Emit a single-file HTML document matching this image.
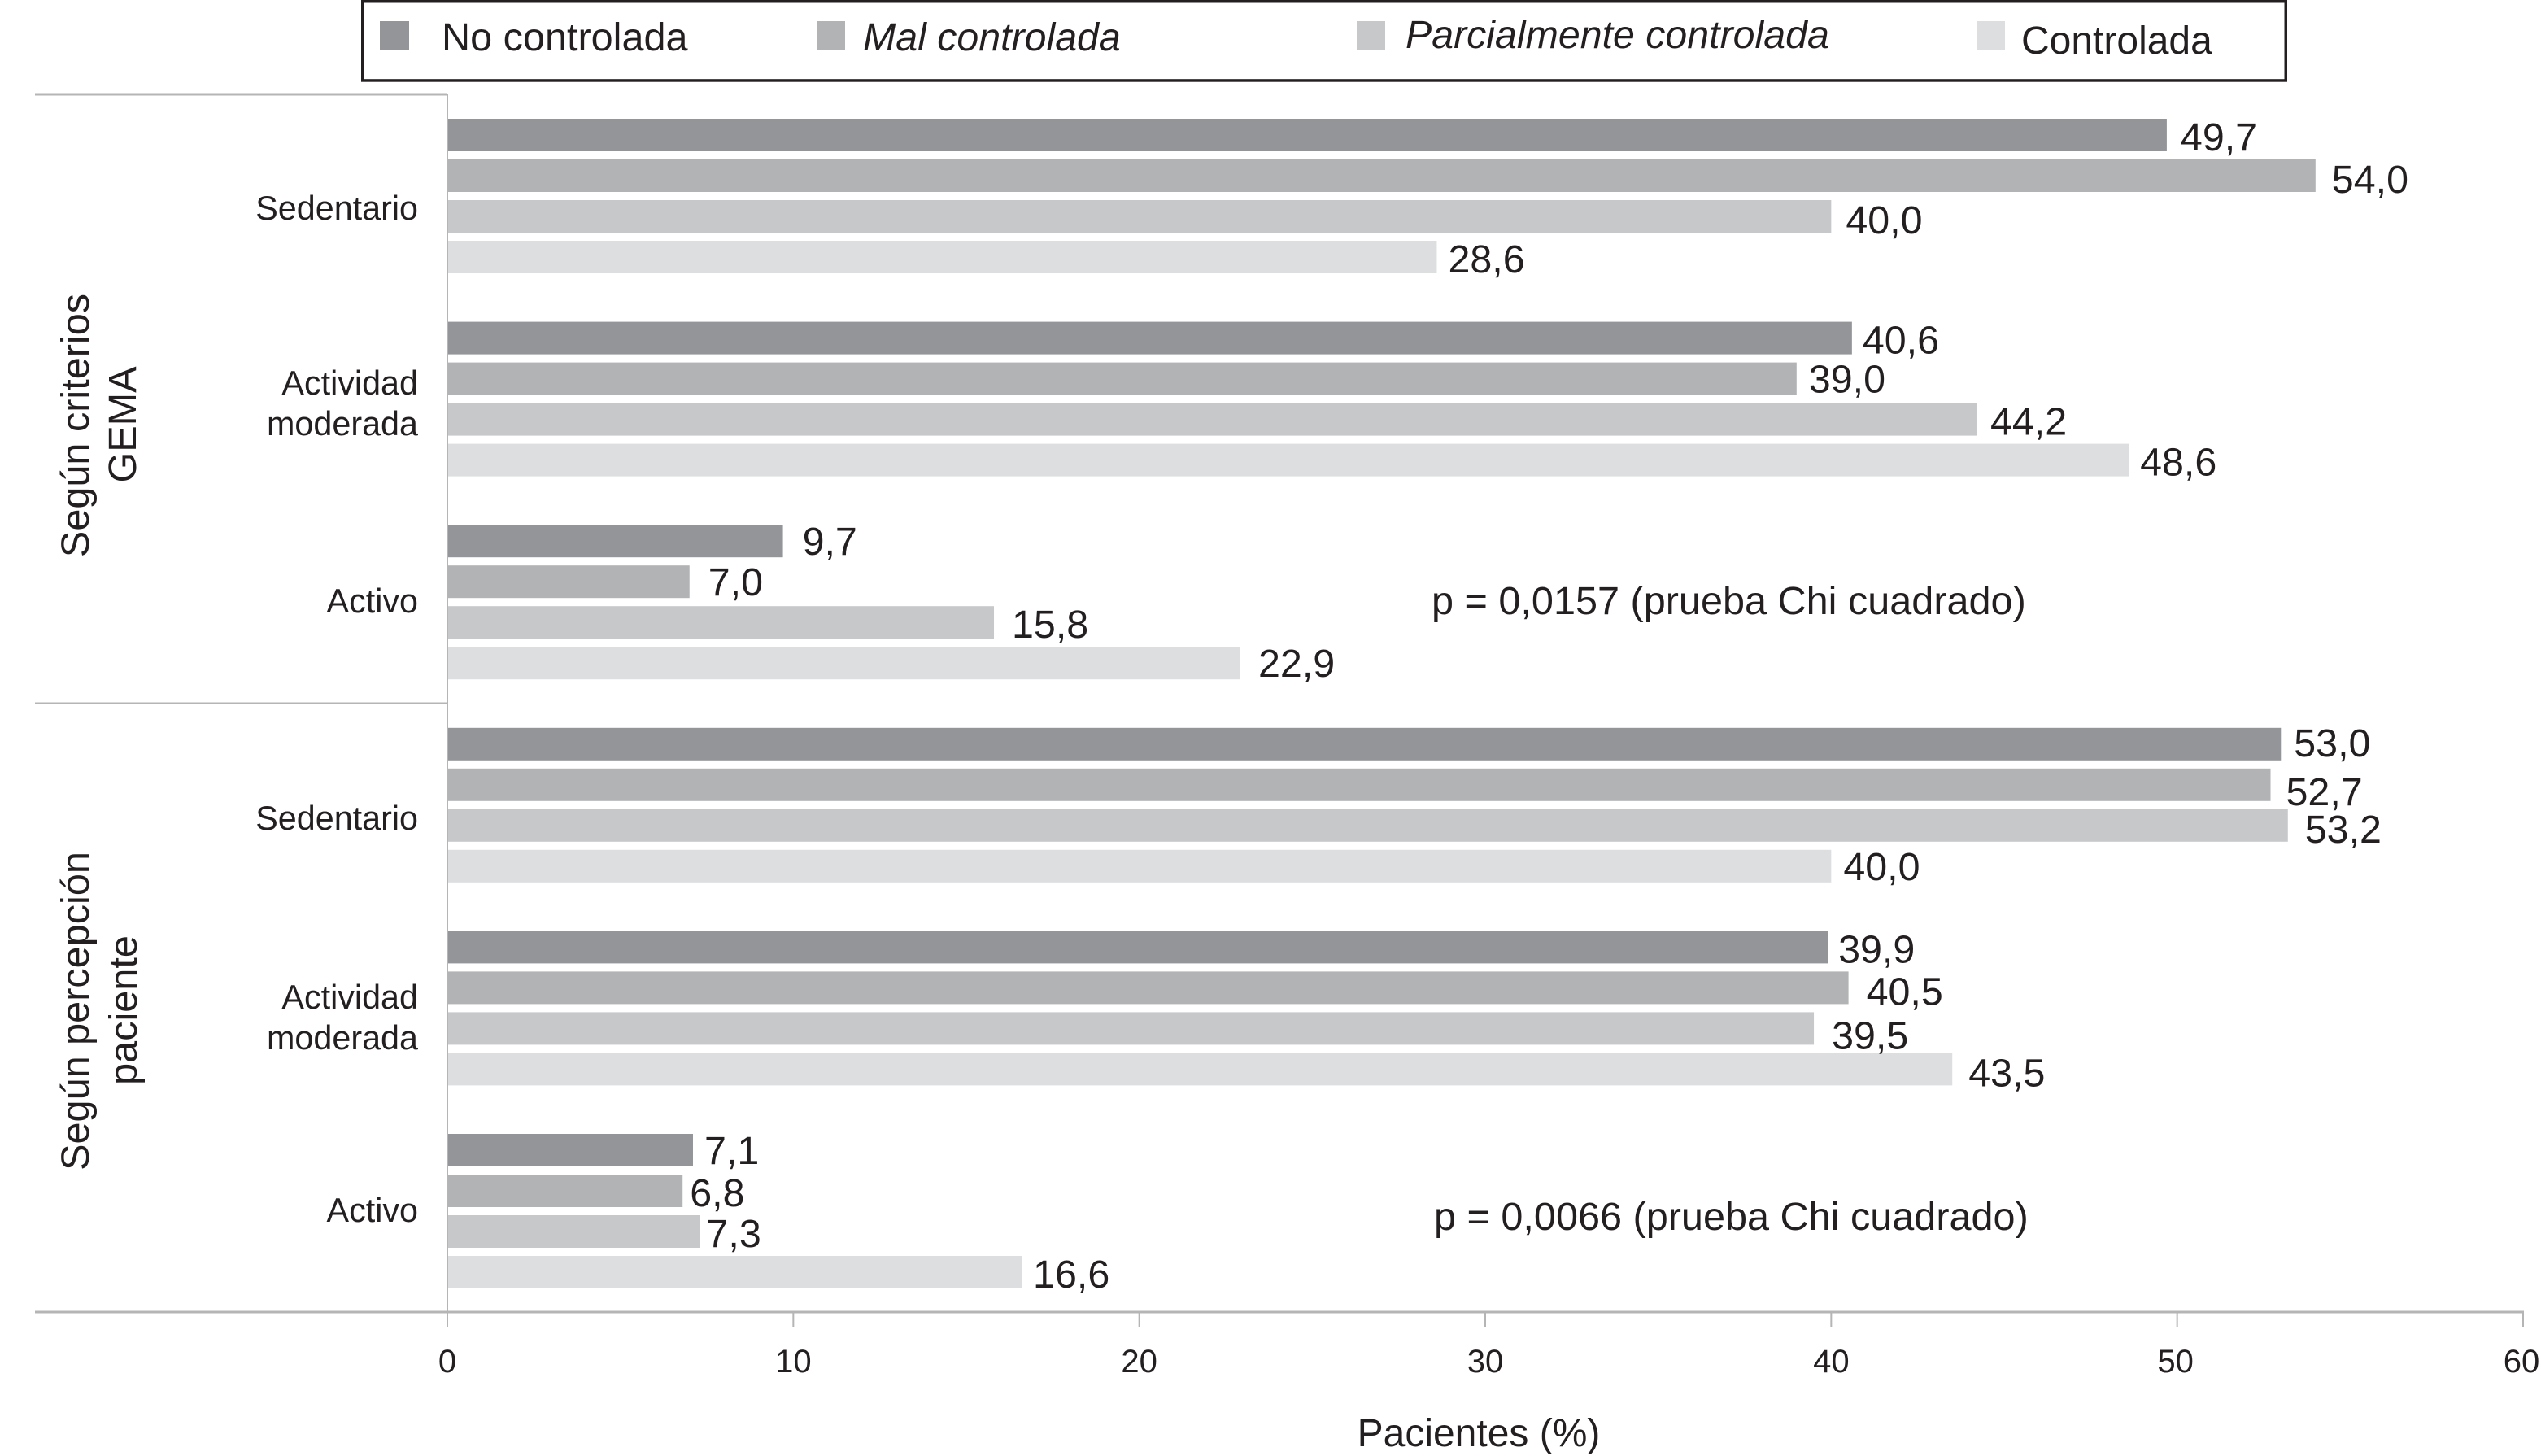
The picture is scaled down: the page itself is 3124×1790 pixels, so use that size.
<!DOCTYPE html>
<html lang="es">
<head>
<meta charset="utf-8">
<title>Control del asma según actividad física</title>
<style>
html,body{margin:0;padding:0;background:#fff;width:3124px;height:1790px;overflow:hidden}
svg{display:block}
text{font-family:"Liberation Sans",sans-serif;fill:#231f20}
</style>
</head>
<body>
<svg id="chart" xmlns="http://www.w3.org/2000/svg" width="3124" height="1790" viewBox="0 0 3124 1790">
  <rect x="0" y="0" width="3124" height="1790" fill="#fff"/>

  <g>
    <rect x="445.75" y="1.75" width="2364.5" height="97.2" fill="#fff" stroke="#231f20" stroke-width="3.5"/>
    <rect x="467" y="26" width="36" height="35" fill="#939598"/>
    <text x="543" y="62" font-size="48.6">No controlada</text>
    <rect x="1004" y="26" width="35" height="35" fill="#b1b3b5"/>
    <text x="1061" y="62" font-size="48.3" font-style="italic">Mal controlada</text>
    <rect x="1668" y="26" width="35" height="35" fill="#c6c8ca"/>
    <text x="1728" y="59" font-size="48.3" font-style="italic">Parcialmente controlada</text>
    <rect x="2430" y="26" width="35" height="35" fill="#dcdee0"/>
    <text x="2485" y="66" font-size="48">Controlada</text>
  </g>

  <g stroke="#b5b5b5">
    <line x1="43" y1="116" x2="550" y2="116" stroke-width="3"/>
    <line x1="43" y1="864.5" x2="550" y2="864.5" stroke-width="2"/>
  </g>

  <g font-size="48.6" text-anchor="middle">
    <text transform="translate(109 523) rotate(-90)">Según criterios</text>
    <text transform="translate(167 522) rotate(-90)">GEMA</text>
    <text transform="translate(109 1243) rotate(-90)">Según percepción</text>
    <text transform="translate(168 1242) rotate(-90)">paciente</text>
  </g>

  <g font-size="41.3" text-anchor="end">
    <text x="514" y="270">Sedentario</text>
    <text x="514" y="485">Actividad</text>
    <text x="514" y="535">moderada</text>
    <text x="514" y="753">Activo</text>
    <text x="514" y="1020">Sedentario</text>
    <text x="514" y="1240">Actividad</text>
    <text x="514" y="1290">moderada</text>
    <text x="514" y="1502">Activo</text>
  </g>

  <g id="bars"></g>
  <g id="values"></g>

  <text x="1760" y="755" font-size="48.6">p = 0,0157 (prueba Chi cuadrado)</text>
  <text x="1763" y="1512" font-size="48.6">p = 0,0066 (prueba Chi cuadrado)</text>

  <g id="axis"></g>
  <text x="1818" y="1778" font-size="48" text-anchor="middle">Pacientes (%)</text>
</svg>

<script>
const groupNames = ['gema-sedentario', 'gema-moderada', 'gema-activo', 'paciente-sedentario', 'paciente-moderada', 'paciente-activo'];
const seriesNames = ['no-controlada', 'mal-controlada', 'parcialmente-controlada', 'controlada'];
const noControlada = [49.7, 40.6, 9.7, 53.0, 39.9, 7.1];
const malControlada = [54.0, 39.0, 7.0, 52.7, 40.5, 6.8];
const parcialmenteControlada = [40.0, 44.2, 15.8, 53.2, 39.5, 7.3];
const controlada = [28.6, 48.6, 22.9, 40.0, 43.5, 16.6];
const xTicks = [0, 10, 20, 30, 40, 50, 60];

const allSeries = [noControlada, malControlada, parcialmenteControlada, controlada];
const seriesFill = ['#939598', '#b1b3b5', '#c6c8ca', '#dcdee0'];

// Hand-placed offsets of the printed values relative to each bar end (as in the source figure)
const labelGap = [[17,20,18,14],[13,15,17,14],[24,23,22,23],[16,19,21,15],[13,22,22,20],[14,9,8,14]];
const labelDrop = [[39,41,41,39],[39,37,39,39],[37,37,39,37],[35,45,41,37],[39,41,45,41],[37,39,39,39]];

const NS = 'http://www.w3.org/2000/svg';
const x = v => 550 + (v / 60) * 2552;
const groupTop = g => 146 + g * 249.6;
const barTop = (g, s) => groupTop(g) + s * 50;
const AXIS_Y = 1613;

function mk(tag, parent) {
  const el = document.createElementNS(NS, tag);
  parent.appendChild(el);
  return el;
}

const barsG = document.getElementById('bars');
const valuesG = document.getElementById('values');
const axisG = document.getElementById('axis');

groupNames.forEach((group, g) => {
  seriesNames.forEach((series, s) => {
    const value = allSeries[s][g];
    const rect = mk('rect', barsG);
    
    
    rect.setAttribute('x', x(0));
    rect.setAttribute('y', barTop(g, s));
    rect.setAttribute('width', x(value) - x(0));
    rect.setAttribute('height', 40);
    rect.setAttribute('fill', seriesFill[s]);

    const label = mk('text', valuesG);
    
    
    label.setAttribute('x', x(value) + labelGap[g][s]);
    label.setAttribute('y', barTop(g, s) + labelDrop[g][s]);
    label.setAttribute('font-size', 48.4);
    label.textContent = value.toFixed(1).replace('.', ',');
  });
});

const baseline = mk('line', axisG);


baseline.setAttribute('x1', 43);
baseline.setAttribute('y1', AXIS_Y);
baseline.setAttribute('x2', x(60) + 1);
baseline.setAttribute('y2', AXIS_Y);
baseline.setAttribute('stroke', '#b5b5b5');
baseline.setAttribute('stroke-width', 3);

const yAxis = mk('line', axisG);


yAxis.setAttribute('x1', x(0));
yAxis.setAttribute('y1', 115);
yAxis.setAttribute('x2', x(0));
yAxis.setAttribute('y2', 1632);
yAxis.setAttribute('stroke', '#b5b5b5');
yAxis.setAttribute('stroke-width', 2);

xTicks.forEach(t => {
  const tick = mk('line', axisG);
  
  
  tick.setAttribute('x1', x(t));
  tick.setAttribute('y1', AXIS_Y);
  tick.setAttribute('x2', x(t));
  tick.setAttribute('y2', 1632);
  tick.setAttribute('stroke', '#b5b5b5');
  tick.setAttribute('stroke-width', 2);

  const tl = mk('text', axisG);
  
  
  tl.setAttribute('x', x(t) - (t >= 50 ? 2 : 0));
  tl.setAttribute('y', 1687);
  tl.setAttribute('font-size', 40);
  tl.setAttribute('text-anchor', 'middle');
  tl.textContent = t;
});
</script>
</body>
</html>
